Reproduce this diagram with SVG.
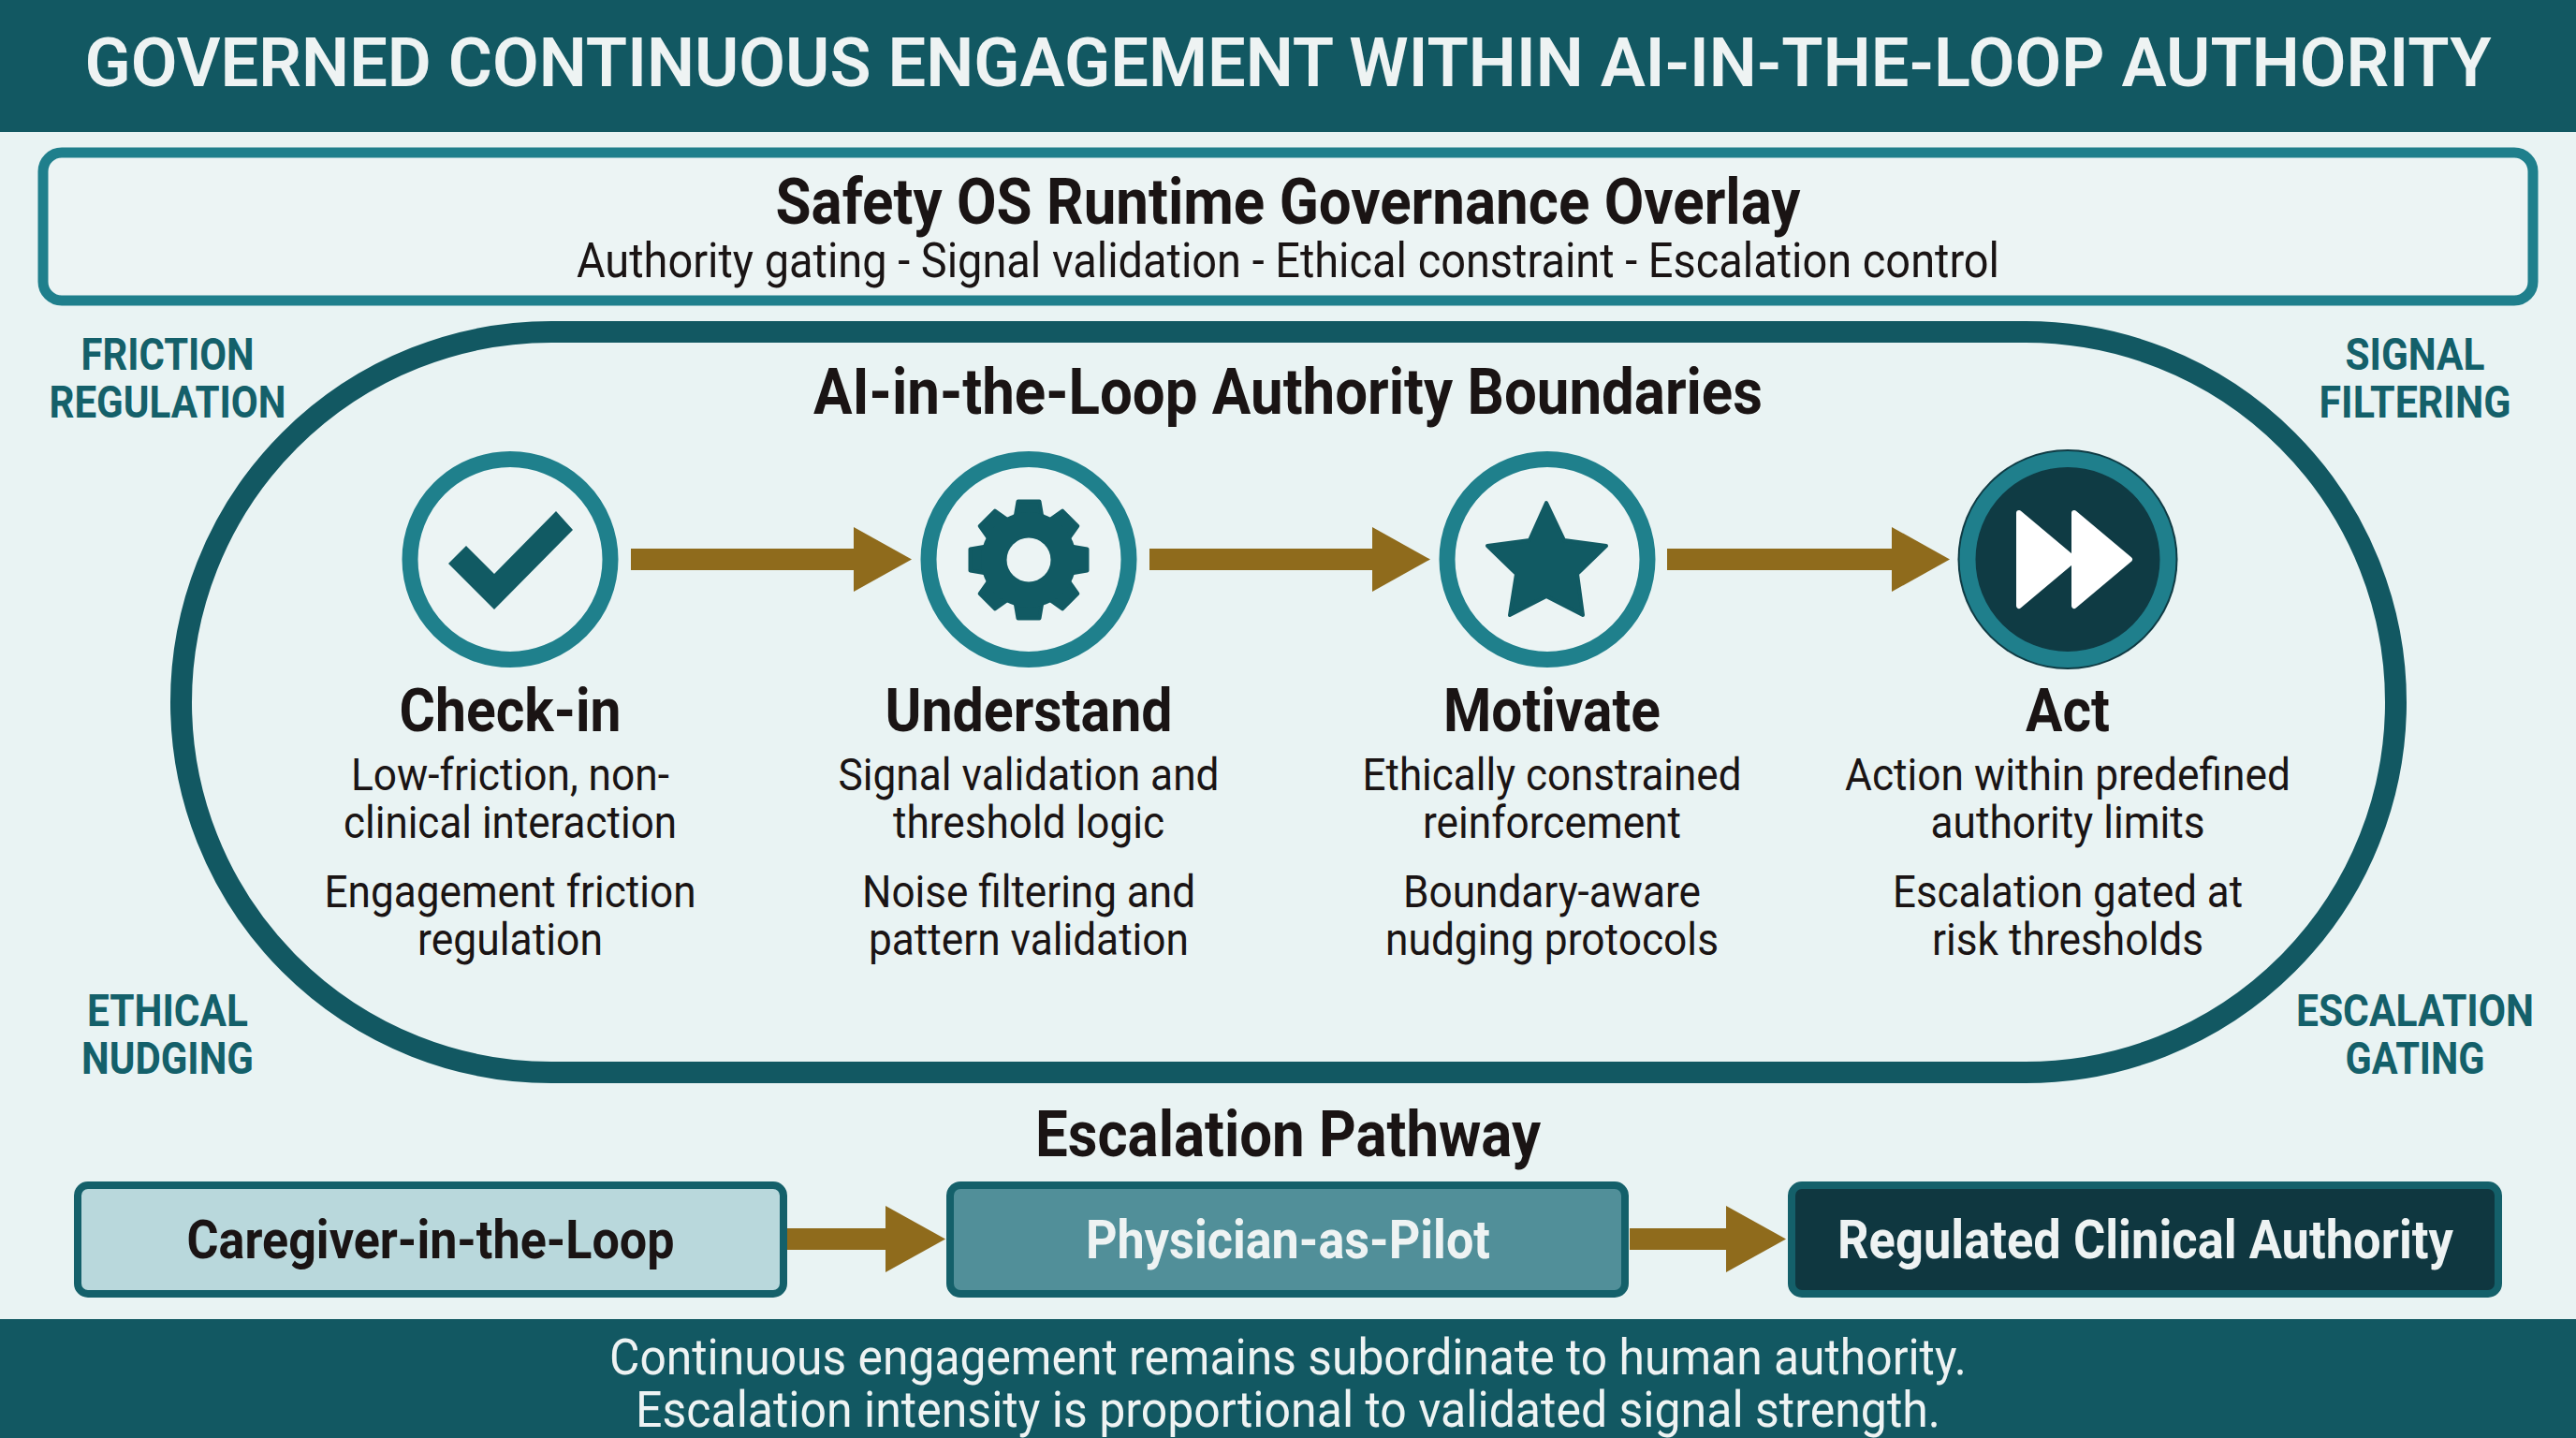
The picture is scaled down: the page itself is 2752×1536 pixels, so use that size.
<svg xmlns="http://www.w3.org/2000/svg" width="2752" height="1536" viewBox="0 0 2752 1536">
<style>
text{font-family:Roboto,"Liberation Sans",sans-serif;text-anchor:middle}
.title{font-size:73px;font-weight:600;fill:#eef3f3}
.h1{font-size:68px;font-weight:700;fill:#1a1414}
.sub{font-size:52px;font-weight:400;fill:#1a1414}
.side{font-size:48px;font-weight:700;fill:#14606a}
.name{font-size:64px;font-weight:700;fill:#1a1414}
.desc{font-size:49px;font-weight:400;fill:#1a1414}
.box{font-size:57px;font-weight:700}
.foot{font-size:54px;font-weight:400;fill:#eef3f3}
.band{fill:#125862}
.ring{fill:#ecf4f4;stroke:#1f808c;stroke-width:17}
.icon{fill:#115a63}
.flow{fill:none;stroke:#8f6b1c;stroke-width:23}
.stage{stroke:#14606a;stroke-width:8}
</style>
<defs>
<marker id="head" markerUnits="userSpaceOnUse" markerWidth="62" markerHeight="69" refX="0" refY="34.5" orient="auto"><polygon points="0,0 62,34.5 0,69" fill="#8f6b1c"/></marker>
<marker id="headS" markerUnits="userSpaceOnUse" markerWidth="64" markerHeight="71" refX="0" refY="35.5" orient="auto"><polygon points="0,0 64,35.5 0,71" fill="#8f6b1c"/></marker>
<path id="tooth" d="M-11.5,-62.5 H11.5 L15,-42 H-15 Z" fill="#115a63" stroke="#115a63" stroke-width="4" stroke-linejoin="round"/>
</defs>
<rect width="2752" height="1536" fill="#e9f3f3"/>
<g id="header"><rect class="band" width="2752" height="141"/>
<text class="title" x="1376" y="92" textLength="2571" lengthAdjust="spacingAndGlyphs">GOVERNED CONTINUOUS ENGAGEMENT WITHIN AI-IN-THE-LOOP AUTHORITY</text></g>
<g id="overlay"><rect x="46" y="163" width="2660" height="158" rx="20" fill="#ecf4f4" stroke="#1f7f8c" stroke-width="11"/>
<text class="h1" x="1376" y="239" textLength="1095" lengthAdjust="spacingAndGlyphs">Safety OS Runtime Governance Overlay</text>
<text class="sub" x="1376" y="296" textLength="1520" lengthAdjust="spacingAndGlyphs">Authority gating - Signal validation - Ethical constraint - Escalation control</text></g>
<g id="boundary"><rect x="193.5" y="354.5" width="2366" height="791" rx="395.5" ry="395.5" fill="#e9f3f3" stroke="#125862" stroke-width="23"/>
<text class="h1" x="1376" y="442" textLength="1014" lengthAdjust="spacingAndGlyphs">AI-in-the-Loop Authority Boundaries</text></g>
<g id="label-friction"><text class="side" x="179" y="395" textLength="185" lengthAdjust="spacingAndGlyphs">FRICTION</text><text class="side" x="179" y="446" textLength="253" lengthAdjust="spacingAndGlyphs">REGULATION</text></g>
<g id="label-signal"><text class="side" x="2580" y="395" textLength="149" lengthAdjust="spacingAndGlyphs">SIGNAL</text><text class="side" x="2580" y="446" textLength="205" lengthAdjust="spacingAndGlyphs">FILTERING</text></g>
<g id="label-ethical"><text class="side" x="179" y="1096" textLength="172" lengthAdjust="spacingAndGlyphs">ETHICAL</text><text class="side" x="179" y="1147" textLength="184" lengthAdjust="spacingAndGlyphs">NUDGING</text></g>
<g id="label-escalation"><text class="side" x="2580" y="1096" textLength="254" lengthAdjust="spacingAndGlyphs">ESCALATION</text><text class="side" x="2580" y="1147" textLength="149" lengthAdjust="spacingAndGlyphs">GATING</text></g>
<g id="connectors">
<path class="flow" d="M674 597.5H912" marker-end="url(#head)"/>
<path class="flow" d="M1228 597.5H1466" marker-end="url(#head)"/>
<path class="flow" d="M1781 597.5H2021" marker-end="url(#head)"/>
<path class="flow" d="M841 1323.5H946" marker-end="url(#headS)"/>
<path class="flow" d="M1741 1323.5H1844" marker-end="url(#headS)"/>
</g>
<g id="node-checkin"><circle class="ring" cx="545" cy="597.5" r="107"/>
<polygon class="icon" points="479,602 498,583 528,613 594,546 612,566 528,651"/>
<text class="name" x="545" y="781" textLength="237" lengthAdjust="spacingAndGlyphs">Check-in</text>
<text class="desc" x="545" y="844" textLength="340" lengthAdjust="spacingAndGlyphs">Low-friction, non-</text>
<text class="desc" x="545" y="895" textLength="356" lengthAdjust="spacingAndGlyphs">clinical interaction</text>
<text class="desc" x="545" y="969" textLength="397" lengthAdjust="spacingAndGlyphs">Engagement friction</text>
<text class="desc" x="545" y="1020" textLength="198" lengthAdjust="spacingAndGlyphs">regulation</text></g>
<g id="node-understand"><circle class="ring" cx="1099" cy="597.5" r="107"/>
<g transform="translate(1099 598)"><use href="#tooth"/><use href="#tooth" transform="rotate(45)"/><use href="#tooth" transform="rotate(90)"/><use href="#tooth" transform="rotate(135)"/><use href="#tooth" transform="rotate(180)"/><use href="#tooth" transform="rotate(225)"/><use href="#tooth" transform="rotate(270)"/><use href="#tooth" transform="rotate(315)"/><circle class="icon" r="51"/><circle r="23.5" fill="#ecf4f4"/></g>
<text class="name" x="1099" y="781" textLength="307" lengthAdjust="spacingAndGlyphs">Understand</text>
<text class="desc" x="1099" y="844" textLength="407" lengthAdjust="spacingAndGlyphs">Signal validation and</text>
<text class="desc" x="1099" y="895" textLength="290" lengthAdjust="spacingAndGlyphs">threshold logic</text>
<text class="desc" x="1099" y="969" textLength="356" lengthAdjust="spacingAndGlyphs">Noise filtering and</text>
<text class="desc" x="1099" y="1020" textLength="342" lengthAdjust="spacingAndGlyphs">pattern validation</text></g>
<g id="node-motivate"><circle class="ring" cx="1653" cy="597.5" r="107"/>
<polygon class="icon" stroke="#115a63" stroke-width="4" stroke-linejoin="round" points="1652,537 1671,577 1716,583 1685,613 1691,657 1652,637 1613,657 1620,613 1589,583 1634,577"/>
<text class="name" x="1658" y="781" textLength="232" lengthAdjust="spacingAndGlyphs">Motivate</text>
<text class="desc" x="1658" y="844" textLength="405" lengthAdjust="spacingAndGlyphs">Ethically constrained</text>
<text class="desc" x="1658" y="895" textLength="276" lengthAdjust="spacingAndGlyphs">reinforcement</text>
<text class="desc" x="1658" y="969" textLength="318" lengthAdjust="spacingAndGlyphs">Boundary-aware</text>
<text class="desc" x="1658" y="1020" textLength="356" lengthAdjust="spacingAndGlyphs">nudging protocols</text></g>
<g id="node-act"><circle cx="2209" cy="597.5" r="117.5" fill="#0f3b44"/><circle cx="2209" cy="597.5" r="107" fill="#0f3b44" stroke="#1f7f8c" stroke-width="17"/>
<polygon fill="#fff" stroke="#fff" stroke-width="6" stroke-linejoin="round" points="2157,548 2216,597.5 2157,647"/>
<polygon fill="#fff" stroke="#fff" stroke-width="6" stroke-linejoin="round" points="2216,548 2275,597.5 2216,647"/>
<text class="name" x="2209" y="781" textLength="90" lengthAdjust="spacingAndGlyphs">Act</text>
<text class="desc" x="2209" y="844" textLength="476" lengthAdjust="spacingAndGlyphs">Action within predefined</text>
<text class="desc" x="2209" y="895" textLength="293" lengthAdjust="spacingAndGlyphs">authority limits</text>
<text class="desc" x="2209" y="969" textLength="374" lengthAdjust="spacingAndGlyphs">Escalation gated at</text>
<text class="desc" x="2209" y="1020" textLength="290" lengthAdjust="spacingAndGlyphs">risk thresholds</text></g>
<g id="pathway-title"><text class="h1" x="1376" y="1235" textLength="540" lengthAdjust="spacingAndGlyphs">Escalation Pathway</text></g>
<g id="node-caregiver"><rect class="stage" x="83" y="1266" width="754" height="116" rx="11" fill="#b9d8dc"/>
<text class="box" x="460" y="1344" fill="#1a1414" textLength="521" lengthAdjust="spacingAndGlyphs">Caregiver-in-the-Loop</text></g>
<g id="node-physician"><rect class="stage" x="1015" y="1266" width="721" height="116" rx="11" fill="#518f99"/>
<text class="box" x="1376" y="1344" fill="#eef3f3" textLength="432" lengthAdjust="spacingAndGlyphs">Physician-as-Pilot</text></g>
<g id="node-regulated"><rect class="stage" x="1914" y="1266" width="755" height="116" rx="11" fill="#0f3740"/>
<text class="box" x="2292" y="1344" fill="#eef3f3" textLength="658" lengthAdjust="spacingAndGlyphs">Regulated Clinical Authority</text></g>
<g id="footer"><rect class="band" y="1409" width="2752" height="127"/>
<text class="foot" x="1376" y="1468" textLength="1450" lengthAdjust="spacingAndGlyphs">Continuous engagement remains subordinate to human authority.</text>
<text class="foot" x="1376" y="1524" textLength="1394" lengthAdjust="spacingAndGlyphs">Escalation intensity is proportional to validated signal strength.</text></g>
</svg>
